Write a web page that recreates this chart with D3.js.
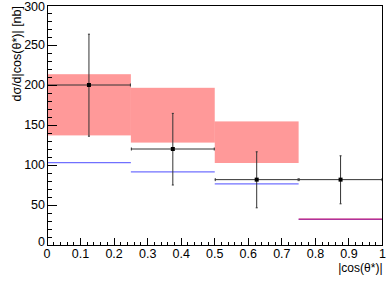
<!DOCTYPE html>
<html>
<head>
<meta charset="utf-8">
<script src="https://cdn.jsdelivr.net/npm/d3@7"></script>
<style>
	body{margin:0;background:#fff;}
	svg{display:block;font-family:"Liberation Sans",Arial,sans-serif;}
	.t_tick{font-size:12.5px;fill:#000;}
	.t_title{font-size:12.5px;fill:#000;}
</style>
</head>
<body>
<svg width="390" height="282"></svg>
<script>
/* ----------------------------------------------------------
data
---------------------------------------------------------- */
var binLo   = [0, 0.25, 0.5, 0.75];
var binHi   = [0.25, 0.5, 0.75, 1];
var value   = [200, 120, 81.7, 81.7];
var errUp   = [263.5, 164.5, 116.5, 111.5];
var errDown = [136, 75, 46.5, 51.5];
var sysUp   = [213.5, 196.5, 154.5, 32];
var sysDown = [137, 128, 102.5, 32];
var theory  = [103, 91.5, 76.5, 32];

var xTicks = [0, 0.1, 0.2, 0.3, 0.4, 0.5, 0.6, 0.7, 0.8, 0.9, 1];
var yTicks = [0, 50, 100, 150, 200, 250, 300];

/* ----------------------------------------------------------
setting
---------------------------------------------------------- */
var L = 47, R = 382.5, T = 5, B = 245;
var svg = d3.select("svg");
var x = d3.scaleLinear().domain([0, 1]).range([L, R]);
var y = d3.scaleLinear().domain([0, 300]).range([B, T]);

var rows = binLo.map(function(d, i){
	return {lo:d, hi:binHi[i], v:value[i], eu:errUp[i], ed:errDown[i], su:sysUp[i], sd:sysDown[i], th:theory[i]};
});

//theory lines
svg.append("g").selectAll("line").data(rows).enter().append("line")
	.attr("x1", function(d){return x(d.lo);}).attr("x2", function(d){return x(d.hi);})
	.attr("y1", function(d){return y(d.th);}).attr("y2", function(d){return y(d.th);})
	.style("stroke", "#7070ff").style("stroke-width", 1.2);

//systematic boxes
var gSys = svg.append("g");
gSys.selectAll("rect").data(rows.filter(function(d){return d.su > d.sd;})).enter().append("rect")
	.attr("x", function(d){return x(d.lo);})
	.attr("width", function(d){return x(d.hi) - x(d.lo);})
	.attr("y", function(d){return y(d.su);})
	.attr("height", function(d){return y(d.sd) - y(d.su);})
	.style("fill", "#ff0000").style("fill-opacity", 0.4);
gSys.selectAll("line").data(rows.filter(function(d){return d.su <= d.sd;})).enter().append("line")
	.attr("x1", function(d){return x(d.lo);}).attr("x2", function(d){return x(d.hi);})
	.attr("y1", function(d){return y(d.su) - 0.3;}).attr("y2", function(d){return y(d.su) - 0.3;})
	.style("stroke", "#e0004a").style("stroke-opacity", 0.55).style("stroke-width", 1.6);

//data points
var gPt = svg.append("g").style("stroke", "#333").style("stroke-width", 1);
gPt.selectAll(".h").data(rows).enter().append("line").attr("class", "h")
	.attr("x1", function(d){return x(d.lo);}).attr("x2", function(d){return x(d.hi);})
	.attr("y1", function(d){return y(d.v);}).attr("y2", function(d){return y(d.v);});
gPt.selectAll(".hl").data(rows).enter().append("line").attr("class", "hl")
	.attr("x1", function(d){return x(d.lo) + 0.5;}).attr("x2", function(d){return x(d.lo) + 0.5;})
	.attr("y1", function(d){return y(d.v) - 1.5;}).attr("y2", function(d){return y(d.v) + 1.5;});
gPt.selectAll(".hr").data(rows).enter().append("line").attr("class", "hr")
	.attr("x1", function(d){return x(d.hi) - 0.5;}).attr("x2", function(d){return x(d.hi) - 0.5;})
	.attr("y1", function(d){return y(d.v) - 1.5;}).attr("y2", function(d){return y(d.v) + 1.5;});
gPt.selectAll(".v").data(rows).enter().append("line").attr("class", "v")
	.attr("x1", function(d){return x((d.lo + d.hi) / 2);}).attr("x2", function(d){return x((d.lo + d.hi) / 2);})
	.attr("y1", function(d){return y(d.eu);}).attr("y2", function(d){return y(d.ed);});
gPt.selectAll(".cu").data(rows).enter().append("line").attr("class", "cu")
	.attr("x1", function(d){return x((d.lo + d.hi) / 2) - 1;}).attr("x2", function(d){return x((d.lo + d.hi) / 2) + 1;})
	.attr("y1", function(d){return y(d.eu);}).attr("y2", function(d){return y(d.eu);});
gPt.selectAll(".cd").data(rows).enter().append("line").attr("class", "cd")
	.attr("x1", function(d){return x((d.lo + d.hi) / 2) - 1;}).attr("x2", function(d){return x((d.lo + d.hi) / 2) + 1;})
	.attr("y1", function(d){return y(d.ed);}).attr("y2", function(d){return y(d.ed);});
svg.append("g").selectAll("rect").data(rows).enter().append("rect")
	.attr("x", function(d){return x((d.lo + d.hi) / 2) - 2;})
	.attr("y", function(d){return y(d.v) - 2;})
	.attr("width", 4).attr("height", 4).style("fill", "#000");

//axis (ROOT style, ticks inside)
var gAx = svg.append("g").style("stroke", "#000").style("stroke-width", 1).style("shape-rendering", "crispEdges");
gAx.append("rect").attr("x", L).attr("y", T).attr("width", R - L).attr("height", B - T).style("fill", "none");
gAx.selectAll(".ym").data(d3.range(0, 301, 10)).enter().append("line").attr("class", "ym")
	.attr("x1", L).attr("x2", function(d){return d % 50 == 0 ? L + 10 : L + 5;})
	.attr("y1", function(d){return y(d);}).attr("y2", function(d){return y(d);});
gAx.selectAll(".xm").data(d3.range(0, 51, 1)).enter().append("line").attr("class", "xm")
	.attr("x1", function(d){return x(d / 50);}).attr("x2", function(d){return x(d / 50);})
	.attr("y1", B).attr("y2", function(d){return d % 5 == 0 ? B - 7 : B - 3.5;});

svg.append("g").selectAll("text").data(yTicks).enter().append("text").attr("class", "t_tick")
	.attr("x", L - 2).attr("y", function(d){return d == 0 ? y(d) - 3 : Math.max(y(d), 6.5);})
	.attr("dy", "0.35em").style("text-anchor", "end").text(function(d){return d;});
svg.append("g").selectAll("text").data(xTicks).enter().append("text").attr("class", "t_tick")
	.attr("x", function(d){return x(d);}).attr("y", 257.5)
	.style("text-anchor", "middle").text(function(d){return d;});

svg.append("text").attr("class", "t_title").attr("x", R).attr("y", 271.5)
	.style("text-anchor", "end").style("font-size", "12px").text("|cos(θ*)|");
svg.append("text").attr("class", "t_title").attr("transform", "translate(21," + (T + 1) + ") rotate(-90)")
	.style("text-anchor", "end").text("dσ/d|cos(θ*)| [nb]");
</script>
</body>
</html>
